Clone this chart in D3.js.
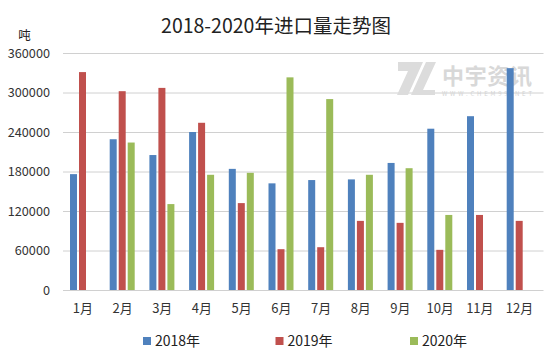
<!DOCTYPE html>
<html>
<head>
<meta charset="utf-8">
<script src="https://cdn.jsdelivr.net/npm/d3@7"></script>
<style>
html,body{margin:0;padding:0;background:#fff;}
text{font-family:"Noto Sans CJK SC","Open Sans",sans-serif;fill:#222;}
</style>
</head>
<body>
<div id="chart"></div>
<script>
var months = ["1月","2月","3月","4月","5月","6月","7月","8月","9月","10月","11月","12月"];
var seriesNames = ["2018年","2019年","2020年"];
var seriesColors = ["#4f81bd","#c0504d","#9bbb59"];
var values2018 = [176000,229000,205000,240000,184000,162000,167000,168000,193000,245000,264000,337000];
var values2019 = [331000,302000,307000,254000,132000,62000,65000,105000,102000,61000,114000,105000];
var values2020 = [null,224000,130500,175000,178000,323000,290000,175000,185000,114000,null,null];
var yTicks = [0,60000,120000,180000,240000,300000,360000];

var allSeries = [values2018,values2019,values2020];
var width = 554, height = 361;
var margin = {top:53, right:10.5, bottom:71, left:63};

var svg = d3.select("#chart").append("svg")
    .attr("width", width)
    .attr("height", height)
    .style("display","block");

var x = d3.scaleBand().domain(months).range([margin.left, margin.left+476.4]);
var inner = d3.scaleBand().domain([0,1,2]).range([7,32]).paddingInner(0.222);
var y = d3.scaleLinear().domain([0,360000]).range([height-margin.bottom, margin.top]);

// title
svg.append("text").attr("x",276).attr("y",33)
    .attr("text-anchor","middle").style("font-size","19.5px")
    .text("2018-2020年进口量走势图");
svg.append("text").attr("x",24.5).attr("y",40)
    .attr("text-anchor","middle").style("font-size","12.5px")
    .text("吨");

// y axis
var yAxis = d3.axisLeft(y).tickValues(yTicks).tickSize(-(width-margin.left-margin.right)).tickPadding(13).tickFormat(d3.format("d"));
var gy = svg.append("g").attr("transform","translate("+margin.left+",0)").call(yAxis);
gy.select(".domain").remove();
gy.selectAll("line").attr("stroke","#d0d0d0");
gy.selectAll("text").style("font-size","12.7px").style("fill","#333");

// watermark, logo outline in its own little box then moved into place
var wm = svg.append("g");
var logoShapes = [
    [[0,0],[25,0],[10,33],[-1,33],[10,9],[0,9]],
    [[28,0],[38,0],[25,28],[37,28],[37,33],[13,33]]
];
wm.selectAll("path").data(logoShapes).enter().append("path")
    .attr("transform","translate(398,62)")
    .attr("d",function(d){ return d3.line()(d)+"Z"; })
    .attr("fill","#dcdcdc");
wm.append("text").attr("x",442).attr("y",84).style("font-size","22px").style("font-weight","bold").style("fill","#d8d8d8").attr("textLength",90).text("中宇资讯");
wm.append("text").attr("x",442).attr("y",96).style("font-size","6px").style("fill","#d4d4d4").attr("textLength",90).text("WWW.CHEM99.NET");

// bars
allSeries.forEach(function(vals,i){
    svg.append("g").selectAll("rect")
        .data(vals.map(function(v,k){ return {m:months[k],v:v}; }).filter(function(d){ return d.v!==null; }))
        .enter().append("rect")
        .attr("x",function(d){ return x(d.m)+inner(i); })
        .attr("y",function(d){ return y(d.v); })
        .attr("width",inner.bandwidth())
        .attr("height",function(d){ return y(0)-y(d.v); })
        .attr("fill",seriesColors[i]);
});

// x axis
var xAxis = d3.axisBottom(x).tickSize(0).tickPadding(14);
var gx = svg.append("g").attr("transform","translate(0,"+y(0)+")").call(xAxis);
gx.select(".domain").remove();
gx.selectAll("text").style("font-size","13px").style("fill","#333");

// legend
var legendX = [143,275.5,410];
seriesNames.forEach(function(n,i){
    svg.append("rect").attr("x",legendX[i]).attr("y",337).attr("width",8).attr("height",8).attr("fill",seriesColors[i]);
    svg.append("text").attr("x",legendX[i]+12).attr("y",346).style("font-size","14px").text(n);
});
</script>
</body>
</html>
